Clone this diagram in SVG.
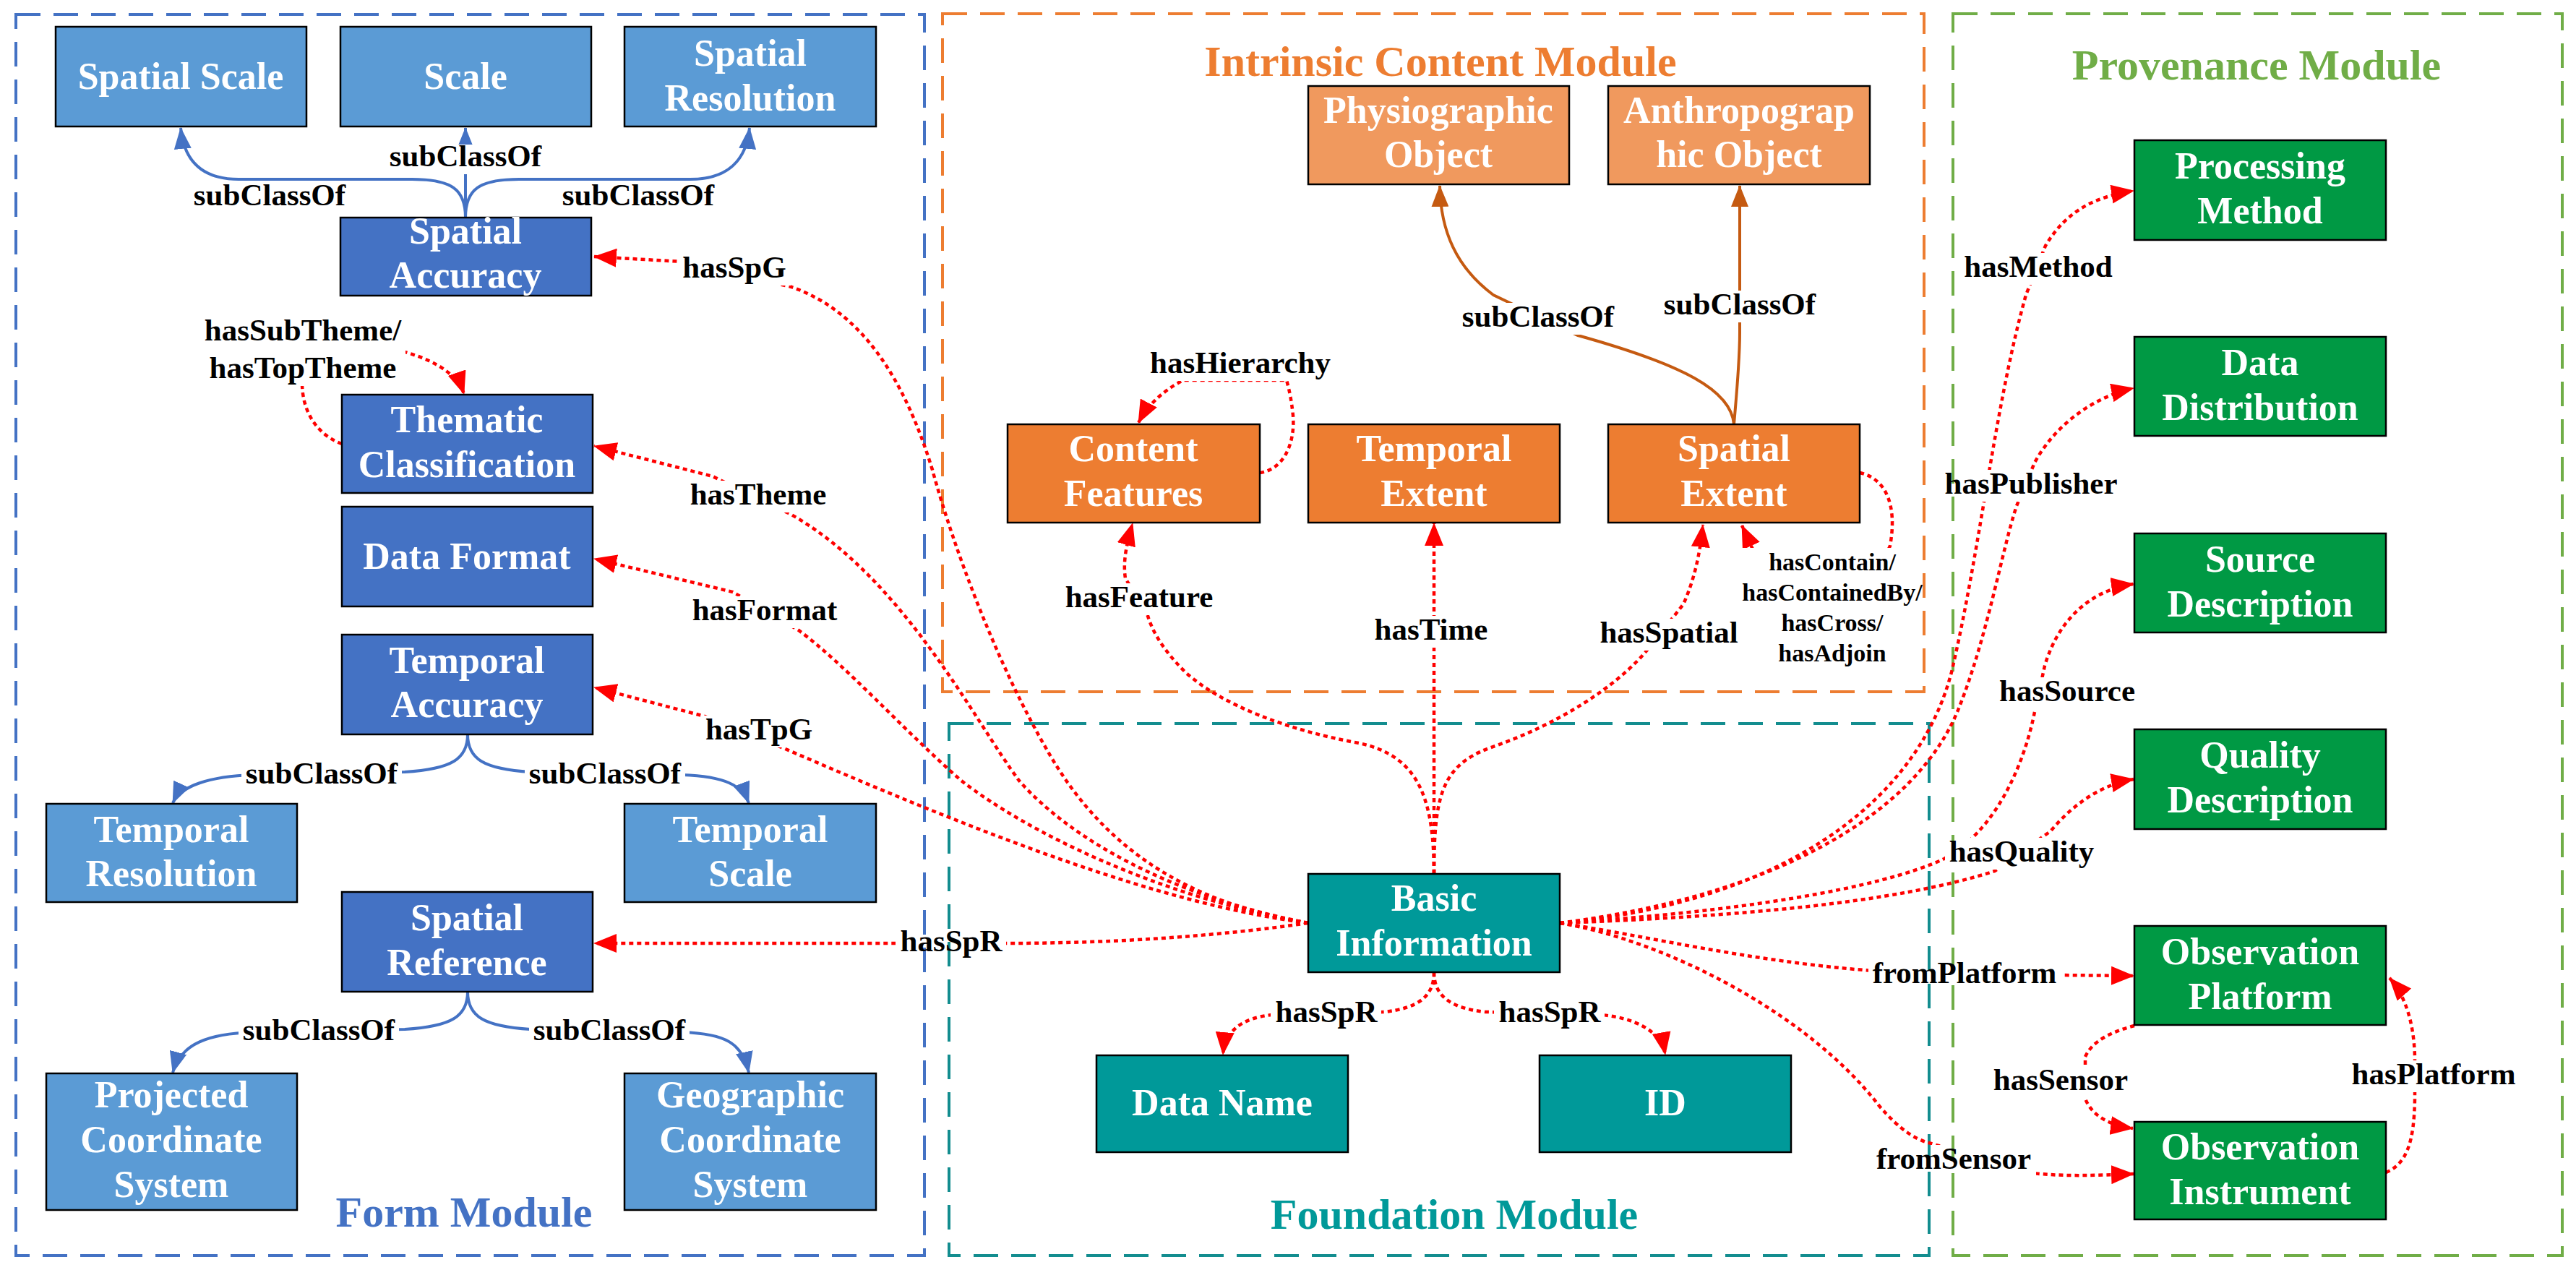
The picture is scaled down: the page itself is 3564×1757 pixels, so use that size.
<svg xmlns="http://www.w3.org/2000/svg" width="3564" height="1757" viewBox="0 0 3564 1757">
<style>
.n rect{stroke:#000;stroke-width:2.5}
.lb rect{fill:#5B9BD5}
.db rect{fill:#4472C4}
.lo rect{fill:#F0995E}
.or rect{fill:#ED7D31}
.tl rect{fill:#009999}
.gr rect{fill:#009944}
text{font-family:"Liberation Serif","Times New Roman",serif;font-weight:bold;text-anchor:middle}
.n text{font-size:52px;fill:#fff}
.el{font-size:43px;fill:#000}
.sm{font-size:34px;fill:#000}
.mt{font-size:60px}
.mod{fill:none;stroke-width:4;stroke-dasharray:34 18}
.red{fill:none;stroke:#FF0000;stroke-width:4.5;stroke-dasharray:6 5;marker-end:url(#ar)}
.blue{fill:none;stroke:#4472C4;stroke-width:4;marker-end:url(#ab)}
.brown{fill:none;stroke:#C55A11;stroke-width:4;marker-end:url(#ao)}
</style>
<defs>
<marker id="ar" markerUnits="userSpaceOnUse" markerWidth="32" markerHeight="26" viewBox="0 0 32 26" refX="31" refY="13" orient="auto"><path d="M0,0 L32,13 L0,26 z" fill="#FF0000"/></marker>
<marker id="ab" markerUnits="userSpaceOnUse" markerWidth="30" markerHeight="24" viewBox="0 0 30 24" refX="29" refY="12" orient="auto"><path d="M0,0 L30,12 L0,24 z" fill="#4472C4"/></marker>
<marker id="ao" markerUnits="userSpaceOnUse" markerWidth="30" markerHeight="24" viewBox="0 0 30 24" refX="29" refY="12" orient="auto"><path d="M0,0 L30,12 L0,24 z" fill="#C55A11"/></marker>
<mask id="lm" maskUnits="userSpaceOnUse" x="0" y="0" width="3564" height="1757">
<rect width="3564" height="1757" fill="#fff"/>
<g fill="#000">
<rect x="533" y="200" width="222" height="41"/>
<rect x="262" y="251" width="222" height="44"/>
<rect x="772" y="251" width="222" height="44"/>
<rect x="334" y="1051" width="222" height="44"/>
<rect x="726" y="1051" width="222" height="44"/>
<rect x="330" y="1406" width="222" height="44"/>
<rect x="732" y="1406" width="222" height="44"/>
<rect x="276" y="438" width="285" height="96"/>
<rect x="939" y="351" width="155" height="44"/>
<rect x="949" y="665" width="201" height="44"/>
<rect x="952" y="825" width="213" height="44"/>
<rect x="970" y="990" width="160" height="44"/>
<rect x="1239" y="1283" width="153" height="44"/>
<rect x="1585" y="483" width="263" height="44"/>
<rect x="1468" y="807" width="217" height="44"/>
<rect x="1895" y="852" width="170" height="44"/>
<rect x="2208" y="856" width="203" height="44"/>
<rect x="2405" y="758" width="260" height="168"/>
<rect x="2017" y="419" width="222" height="44"/>
<rect x="2296" y="402" width="222" height="44"/>
<rect x="1758" y="1381" width="153" height="44"/>
<rect x="2067" y="1381" width="153" height="44"/>
<rect x="2712" y="350" width="217" height="44"/>
<rect x="2685" y="650" width="251" height="44"/>
<rect x="2760" y="937" width="201" height="44"/>
<rect x="2691" y="1159" width="213" height="44"/>
<rect x="2585" y="1327" width="267" height="44"/>
<rect x="2590" y="1584" width="227" height="44"/>
<rect x="2752" y="1475" width="198" height="44"/>
<rect x="3248" y="1467" width="239" height="44"/>
</g>
</mask>
</defs>
<rect width="3564" height="1757" fill="#fff"/>

<g id="modules">
<rect class="mod" x="22" y="20" width="1257" height="1717" stroke="#4472C4"/>
<rect class="mod" x="1304" y="19" width="1358" height="938" stroke="#ED7D31"/>
<rect class="mod" x="1313" y="1001" width="1356" height="736" stroke="#138D8F"/>
<rect class="mod" x="2702" y="19" width="843" height="1718" stroke="#70AD47"/>
<text class="mt" x="642" y="1697" fill="#4472C4">Form Module</text>
<text class="mt" x="1993" y="105" fill="#ED7D31">Intrinsic Content Module</text>
<text class="mt" x="2012" y="1700" fill="#009999">Foundation Module</text>
<text class="mt" x="3122" y="110" fill="#70AD47">Provenance Module</text>
</g>

<g id="connectors" mask="url(#lm)">
<path class="blue" d="M644,301 L644,177"/>
<path class="blue" d="M644,301 C644,262 625,248 570,248 L330,248 C285,248 255,228 250,177"/>
<path class="blue" d="M644,301 C644,262 663,248 718,248 L955,248 C1000,248 1032,228 1037,177"/>
<path class="blue" d="M647,1016 C647,1050 625,1064 560,1068 L350,1072 C290,1074 250,1087 239,1111"/>
<path class="blue" d="M647,1016 C647,1050 669,1064 734,1068 L944,1072 C1004,1074 1027,1087 1036,1111"/>
<path class="blue" d="M647,1372 C647,1406 625,1420 560,1424 L350,1428 C290,1430 250,1443 239,1484"/>
<path class="blue" d="M647,1372 C647,1406 669,1420 734,1424 L944,1428 C1004,1430 1027,1443 1036,1484"/>
<path class="red" d="M473,614 C435,600 418,565 418,530 L418,470 C480,470 620,480 642,545"/>
<path class="red" d="M1810,1277 C1650,1250 1530,1180 1450,1040 C1380,920 1320,760 1290,650 C1250,520 1190,430 1095,397 L944,362 L822,355"/>
<path class="red" d="M1810,1277 C1620,1240 1480,1160 1410,1080 C1350,1000 1250,800 1095,712 L986,659 L822,617"/>
<path class="red" d="M1810,1277 C1600,1240 1420,1150 1330,1080 C1250,1010 1170,920 1105,872 L1014,819 L822,773"/>
<path class="red" d="M1810,1277 C1600,1250 1350,1150 1084,1035 L975,991 L822,951"/>
<path class="red" d="M1810,1277 C1650,1300 1500,1305 1392,1305 L822,1305"/>
<path class="brown" d="M2399,587 C2395,540 2330,505 2183,464 L2066,408 C2015,370 1993,320 1992,257"/>
<path class="brown" d="M2399,587 C2403,540 2407,500 2407,460 L2407,257"/>
<path class="red" d="M1743,654 C1775,650 1792,615 1789,575 C1787,555 1784,540 1780,526 L1637,526 C1610,540 1588,560 1575,585"/>
<path class="red" d="M1984,1209 C1984,1100 1960,1045 1880,1028 C1780,1010 1690,975 1640,930 C1610,900 1595,875 1588,852 L1557,800 C1553,775 1560,748 1567,724"/>
<path class="red" d="M1984,1209 L1984,724"/>
<path class="red" d="M1984,1209 C1984,1100 1995,1060 2060,1035 C2150,1005 2240,950 2284,893 L2329,836 C2345,800 2352,765 2356,726"/>
<path class="red" d="M2573,654 C2610,662 2625,700 2615,755 C2600,800 2450,800 2425,760 L2410,727"/>
<path class="red" d="M1984,1345 C1984,1380 1960,1395 1915,1400 L1760,1404 C1720,1408 1695,1425 1692,1459"/>
<path class="red" d="M1984,1345 C1984,1380 2010,1395 2055,1400 L2215,1404 C2260,1408 2298,1425 2304,1459"/>
<path class="red" d="M2158,1277 C2450,1250 2650,1120 2700,930 C2740,760 2760,560 2803,408 L2830,340 C2860,290 2900,272 2952,264"/>
<path class="red" d="M2158,1277 C2450,1240 2650,1130 2710,980 C2750,880 2770,760 2790,700 L2815,640 C2845,585 2900,548 2952,537"/>
<path class="red" d="M2158,1277 C2400,1262 2600,1230 2690,1188 C2760,1150 2800,1060 2815,985 L2829,921 C2850,850 2900,815 2952,808"/>
<path class="red" d="M2158,1277 C2400,1268 2620,1250 2760,1205 L2837,1150 C2870,1110 2910,1085 2952,1078"/>
<path class="red" d="M2158,1277 C2280,1295 2420,1330 2591,1343 L2845,1349 L2952,1350"/>
<path class="red" d="M2158,1277 C2300,1300 2500,1400 2600,1530 C2630,1565 2650,1575 2665,1580 L2812,1623 C2860,1628 2900,1626 2952,1624"/>
<path class="red" d="M2953,1419 C2920,1428 2895,1440 2885,1462 L2885,1520 C2895,1545 2920,1557 2951,1561"/>
<path class="red" d="M3301,1622 C3330,1610 3340,1580 3341,1520 L3341,1463 C3340,1420 3330,1380 3306,1353"/>
</g>

<g id="edge-labels">
<text class="el" x="644" y="230">subClassOf</text>
<text class="el" x="373" y="284">subClassOf</text>
<text class="el" x="883" y="284">subClassOf</text>
<text class="el" x="445" y="1084">subClassOf</text>
<text class="el" x="837" y="1084">subClassOf</text>
<text class="el" x="441" y="1439">subClassOf</text>
<text class="el" x="843" y="1439">subClassOf</text>
<text class="el" x="419" y="471">hasSubTheme/</text>
<text class="el" x="419" y="523">hasTopTheme</text>
<text class="el" x="1016" y="384">hasSpG</text>
<text class="el" x="1049" y="698">hasTheme</text>
<text class="el" x="1058" y="858">hasFormat</text>
<text class="el" x="1050" y="1023">hasTpG</text>
<text class="el" x="1316" y="1316">hasSpR</text>
<text class="el" x="1716" y="516">hasHierarchy</text>
<text class="el" x="1576" y="840">hasFeature</text>
<text class="el" x="1980" y="885">hasTime</text>
<text class="el" x="2309" y="889">hasSpatial</text>
<text class="sm" x="2535" y="789">hasContain/</text>
<text class="sm" x="2535" y="831">hasContainedBy/</text>
<text class="sm" x="2535" y="873">hasCross/</text>
<text class="sm" x="2535" y="915">hasAdjoin</text>
<text class="el" x="2128" y="452">subClassOf</text>
<text class="el" x="2407" y="435">subClassOf</text>
<text class="el" x="1835" y="1414">hasSpR</text>
<text class="el" x="2144" y="1414">hasSpR</text>
<text class="el" x="2820" y="383">hasMethod</text>
<text class="el" x="2810" y="683">hasPublisher</text>
<text class="el" x="2860" y="970">hasSource</text>
<text class="el" x="2797" y="1192">hasQuality</text>
<text class="el" x="2718" y="1360">fromPlatform</text>
<text class="el" x="2703" y="1617">fromSensor</text>
<text class="el" x="2851" y="1508">hasSensor</text>
<text class="el" x="3367" y="1500">hasPlatform</text>
</g>

<g id="n-spatial-scale" class="n lb"><rect x="77" y="37" width="347" height="138"/><text x="250" y="123">Spatial Scale</text></g>
<g id="n-scale" class="n lb"><rect x="471" y="37" width="347" height="138"/><text x="644" y="123">Scale</text></g>
<g id="n-spatial-resolution" class="n lb"><rect x="864" y="37" width="348" height="138"/><text x="1038" y="91">Spatial</text><text x="1038" y="153">Resolution</text></g>
<g id="n-spatial-accuracy" class="n db"><rect x="471" y="301" width="347" height="108"/><text x="644" y="337">Spatial</text><text x="644" y="398">Accuracy</text></g>
<g id="n-thematic-classification" class="n db"><rect x="473" y="546" width="347" height="136"/><text x="646" y="598">Thematic</text><text x="646" y="660">Classification</text></g>
<g id="n-data-format" class="n db"><rect x="473" y="701" width="347" height="138"/><text x="646" y="787">Data Format</text></g>
<g id="n-temporal-accuracy" class="n db"><rect x="473" y="878" width="347" height="138"/><text x="646" y="931">Temporal</text><text x="646" y="992">Accuracy</text></g>
<g id="n-temporal-resolution" class="n lb"><rect x="64" y="1112" width="347" height="136"/><text x="237" y="1165">Temporal</text><text x="237" y="1226">Resolution</text></g>
<g id="n-temporal-scale" class="n lb"><rect x="864" y="1112" width="348" height="136"/><text x="1038" y="1165">Temporal</text><text x="1038" y="1226">Scale</text></g>
<g id="n-spatial-reference" class="n db"><rect x="473" y="1234" width="347" height="138"/><text x="646" y="1287">Spatial</text><text x="646" y="1349">Reference</text></g>
<g id="n-projected-cs" class="n lb"><rect x="64" y="1485" width="347" height="189"/><text x="237" y="1532">Projected</text><text x="237" y="1594">Coordinate</text><text x="237" y="1656">System</text></g>
<g id="n-geographic-cs" class="n lb"><rect x="864" y="1485" width="348" height="189"/><text x="1038" y="1532">Geographic</text><text x="1038" y="1594">Coordinate</text><text x="1038" y="1656">System</text></g>

<g id="n-physiographic-object" class="n lo"><rect x="1810" y="119" width="361" height="136"/><text x="1990" y="170">Physiographic</text><text x="1990" y="231">Object</text></g>
<g id="n-anthropographic-object" class="n lo"><rect x="2225" y="119" width="362" height="136"/><text x="2406" y="170">Anthropograp</text><text x="2406" y="231">hic Object</text></g>
<g id="n-content-features" class="n or"><rect x="1394" y="587" width="349" height="136"/><text x="1568" y="638">Content</text><text x="1568" y="700">Features</text></g>
<g id="n-temporal-extent" class="n or"><rect x="1810" y="587" width="348" height="136"/><text x="1984" y="638">Temporal</text><text x="1984" y="700">Extent</text></g>
<g id="n-spatial-extent" class="n or"><rect x="2225" y="587" width="348" height="136"/><text x="2399" y="638">Spatial</text><text x="2399" y="700">Extent</text></g>

<g id="n-basic-information" class="n tl"><rect x="1810" y="1209" width="348" height="136"/><text x="1984" y="1260">Basic</text><text x="1984" y="1322">Information</text></g>
<g id="n-data-name" class="n tl"><rect x="1517" y="1460" width="348" height="134"/><text x="1691" y="1543">Data Name</text></g>
<g id="n-id" class="n tl"><rect x="2130" y="1460" width="348" height="134"/><text x="2304" y="1543">ID</text></g>

<g id="n-processing-method" class="n gr"><rect x="2953" y="194" width="348" height="138"/><text x="3127" y="247">Processing</text><text x="3127" y="309">Method</text></g>
<g id="n-data-distribution" class="n gr"><rect x="2953" y="466" width="348" height="137"/><text x="3127" y="519">Data</text><text x="3127" y="581">Distribution</text></g>
<g id="n-source-description" class="n gr"><rect x="2953" y="738" width="348" height="137"/><text x="3127" y="791">Source</text><text x="3127" y="853">Description</text></g>
<g id="n-quality-description" class="n gr"><rect x="2953" y="1009" width="348" height="138"/><text x="3127" y="1062">Quality</text><text x="3127" y="1124">Description</text></g>
<g id="n-observation-platform" class="n gr"><rect x="2953" y="1281" width="348" height="137"/><text x="3127" y="1334">Observation</text><text x="3127" y="1396">Platform</text></g>
<g id="n-observation-instrument" class="n gr"><rect x="2953" y="1552" width="348" height="135"/><text x="3127" y="1604">Observation</text><text x="3127" y="1666">Instrument</text></g>
</svg>
